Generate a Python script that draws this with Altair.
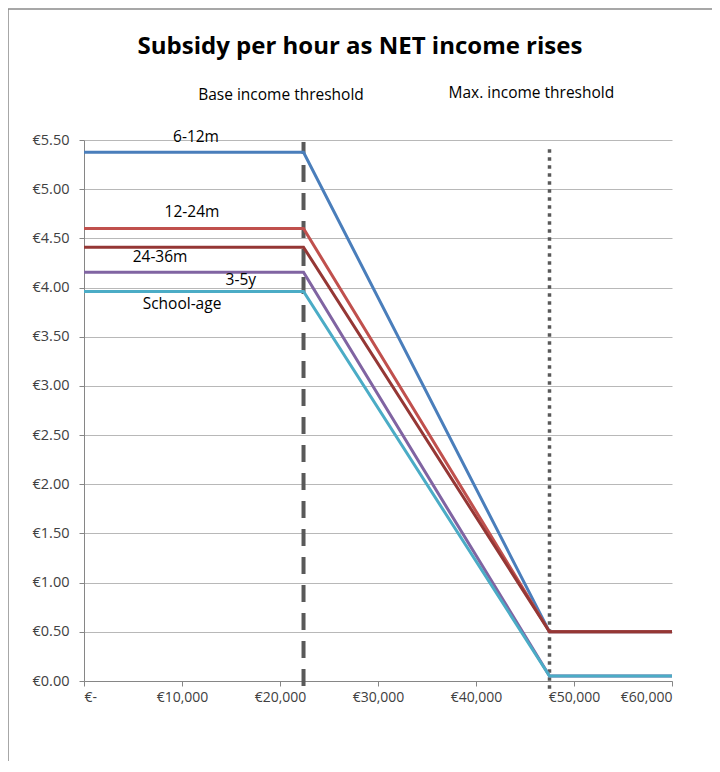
import altair as alt
import pandas as pd

title_text = "Subsidy per hour as NET income rises"
series = ["6-12m", "12-24m", "24-36m", "3-5y", "School-age"]
colors = ["#4a7ebb", "#c0504d", "#953735", "#8064a2", "#4bacc6"]
start_values = [5.375, 4.60, 4.41, 4.155, 3.96]
end_values = [0.50, 0.50, 0.50, 0.05, 0.05]
income_points = [0, 22400, 47500, 60000]
base_threshold = 22400
max_threshold = 47500

label_x = [11430, 11020, 7760, 16000, 10000]
label_y = [5.53, 4.77, 4.31, 4.08, 3.83]

rows = []
for s, a, b in zip(series, start_values, end_values):
    for i, x in enumerate(income_points):
        rows.append({"series": s, "income": x, "subsidy": a if i < 2 else b, "idx": i})
df = pd.DataFrame(rows)

font = "Open Sans"
xscale = alt.Scale(domain=[0, 60000])
yscale = alt.Scale(domain=[0, 5.5])

x_axis = alt.Axis(
    values=[0, 10000, 20000, 30000, 40000, 50000, 60000],
    labelExpr="datum.value == 0 ? '€-' : '€' + format(datum.value, ',')",
    grid=False, title=None, tickSize=5, tickColor="#868686", domainColor="#868686",
    labelFont=font, labelFontSize=14, labelColor="#404040", labelPadding=4,
)
y_axis = alt.Axis(
    values=[0, 0.5, 1, 1.5, 2, 2.5, 3, 3.5, 4, 4.5, 5, 5.5],
    labelExpr="'€' + format(datum.value, '.2f')",
    grid=True, gridColor="#b8b8b8", title=None, tickSize=5, tickColor="#868686",
    domainColor="#868686", labelFont=font, labelFontSize=14.5, labelColor="#404040",
    labelPadding=10,
)

axes_layer = alt.Chart(pd.DataFrame({"income": [0], "subsidy": [0]})).mark_point(opacity=0).encode(
    x=alt.X("income:Q", scale=xscale, axis=x_axis),
    y=alt.Y("subsidy:Q", scale=yscale, axis=y_axis),
)

layers = [axes_layer]

vdf = pd.DataFrame({"x": [base_threshold], "y1": [-0.05], "y2": [5.48]})
dashed = alt.Chart(vdf).mark_rule(color="#595959", strokeWidth=4, strokeDash=[17, 11], clip=False).encode(
    x=alt.X("x:Q", scale=xscale), y=alt.Y("y1:Q", scale=yscale), y2="y2:Q"
)
mdf = pd.DataFrame({"x": [max_threshold], "y1": [-0.08], "y2": [5.44]})
dotted = alt.Chart(mdf).mark_rule(color="#595959", strokeWidth=3.5, strokeDash=[3.5, 4.5], clip=False).encode(
    x=alt.X("x:Q", scale=xscale), y=alt.Y("y1:Q", scale=yscale), y2="y2:Q"
)
layers += [dashed, dotted]

for s, c in zip(series, colors):
    layers.append(
        alt.Chart(df[df.series == s]).mark_line(color=c, strokeWidth=3, clip=False).encode(
            x=alt.X("income:Q", scale=xscale),
            y=alt.Y("subsidy:Q", scale=yscale),
            order="idx:Q",
        )
    )

ldf = pd.DataFrame({"series": series, "x": label_x, "y": label_y})
labels = alt.Chart(ldf).mark_text(font=font, fontSize=15.5, color="#000000", clip=False).encode(
    x=alt.X("x:Q", scale=xscale), y=alt.Y("y:Q", scale=yscale), text="series:N"
)
layers.append(labels)

adf = pd.DataFrame({
    "text": ["Base income threshold", "Max. income threshold"],
    "x": [20100, 45650],
    "y": [5.955, 5.975],
})
annots = alt.Chart(adf).mark_text(font=font, fontSize=15.5, color="#000000", clip=False).encode(
    x=alt.X("x:Q", scale=xscale), y=alt.Y("y:Q", scale=yscale), text="text:N"
)
layers.append(annots)

tdf = pd.DataFrame({"text": [title_text], "x": [28160], "y": [6.445]})
title_mark = alt.Chart(tdf).mark_text(
    font=font, fontSize=24, fontWeight="bold", color="#000000", clip=False
).encode(x=alt.X("x:Q", scale=xscale), y=alt.Y("y:Q", scale=yscale), text="text:N")
layers.append(title_mark)

frame_left = alt.Chart(pd.DataFrame({"a": [0]})).mark_rule(color="#8a8a8a", strokeWidth=1.5, clip=False).encode(
    x=alt.value(-76), y=alt.value(-131), y2=alt.value(640)
)
frame_top = alt.Chart(pd.DataFrame({"a": [0]})).mark_rule(color="#8a8a8a", strokeWidth=1.5, clip=False).encode(
    x=alt.value(-76), x2=alt.value(640), y=alt.value(-131)
)
layers += [frame_left, frame_top]

chart = alt.layer(*layers).properties(
    width=588, height=541,
    autosize=alt.AutoSizeParams(type="none"),
    padding={"left": 76, "top": 132, "right": 40, "bottom": 80},
).configure_view(stroke=None)

chart.save("out.html", embed_options={"renderer": "svg", "actions": False})
